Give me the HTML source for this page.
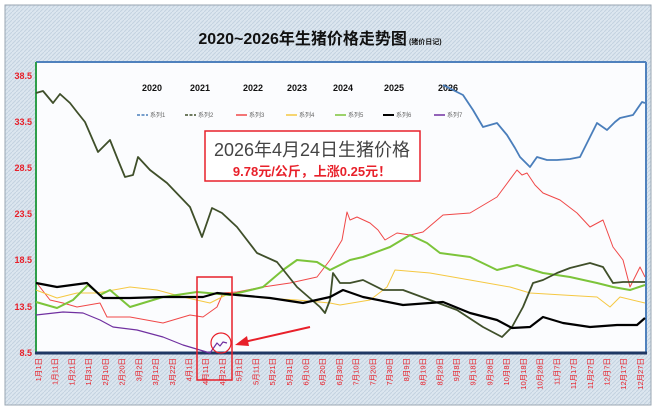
<!DOCTYPE html>
<html><head><meta charset="utf-8"><style>
body{margin:0;width:660px;height:412px;overflow:hidden;background:#fff;font-family:"Liberation Sans","Noto Sans CJK SC",sans-serif}
</style></head><body>
<svg width="660" height="412" viewBox="0 0 660 412" xmlns="http://www.w3.org/2000/svg" font-family="Liberation Sans, Noto Sans CJK SC, sans-serif">
<defs>
<pattern id="h" width="4" height="4" patternUnits="userSpaceOnUse"><rect width="4" height="4" fill="#dce6ef"/><path d="M0 4L4 0" stroke="#c3d2e0" stroke-width="1"/></pattern>
</defs>
<rect width="660" height="412" fill="#fff"/>
<rect x="5" y="5" width="646" height="400" fill="url(#h)" stroke="#9aa6b2"/>
<rect x="36" y="62" width="610" height="291" fill="#fbfcfe"/>
<line x1="36" y1="62" x2="646" y2="62" stroke="#4f81bd" stroke-width="2"/>
<line x1="646" y1="62" x2="646" y2="353" stroke="#4f81bd" stroke-width="2"/>
<line x1="36" y1="62" x2="36" y2="353" stroke="#2e9e4a" stroke-width="2"/>
<line x1="35" y1="353" x2="647" y2="353" stroke="#1f3864" stroke-width="3"/>
<text x="320" y="44" font-size="16" font-weight="bold" text-anchor="middle" fill="#111">2020~2026年生猪价格走势图<tspan font-size="7" dx="2">(猪价日记)</tspan></text>
<g font-size="9" font-weight="bold" fill="#e8202a" text-anchor="end">
<text x="32" y="79">38.5</text><text x="32" y="125">33.5</text><text x="32" y="171">28.5</text><text x="32" y="217">23.5</text><text x="32" y="263">18.5</text><text x="32" y="310">13.5</text><text x="32" y="356">8.5</text>
</g>
<g font-size="9" font-weight="bold" fill="#111" text-anchor="middle">
<text x="152" y="91">2020</text><text x="200" y="91">2021</text><text x="253" y="91">2022</text><text x="297" y="91">2023</text><text x="343" y="91">2024</text><text x="394" y="91">2025</text><text x="448" y="91">2026</text>
</g>
<g font-size="6" fill="#666" stroke-width="1.5">
<line x1="137" y1="115" x2="148" y2="115" stroke="#4a7ebb" stroke-dasharray="3,1.5"/><text x="150" y="117">系列1</text>
<line x1="185" y1="115" x2="196" y2="115" stroke="#3f4f2a" stroke-dasharray="3,1.5"/><text x="198" y="117">系列2</text>
<line x1="236" y1="115" x2="247" y2="115" stroke="#f04848"/><text x="249" y="117">系列3</text>
<line x1="286" y1="115" x2="297" y2="115" stroke="#f5c842"/><text x="299" y="117">系列4</text>
<line x1="335" y1="115" x2="346" y2="115" stroke="#7cc43a"/><text x="348" y="117">系列5</text>
<line x1="383" y1="115" x2="394" y2="115" stroke="#000" stroke-width="2"/><text x="396" y="117">系列6</text>
<line x1="434" y1="115" x2="445" y2="115" stroke="#7030a0"/><text x="447" y="117">系列7</text>
</g>
<g fill="none" stroke-linejoin="round">
<polyline stroke="#4a7ebb" stroke-width="1.8" points="443,85 453,90 463,95 473,110 483,127 490,125 497,123 507,135 515,148 520,157 530,167 537,157 547,160 557,160 570,159 580,157 590,137 597,123 607,130 615,122 620,118 633,115 642,102 645,103"/>
<polyline stroke="#f04848" stroke-width="1" points="36,282 50,300 63,303 77,307 100,303 107,317 130,317 163,323 190,315 203,317 217,307 223,293 237,292 263,287 290,283 317,277 330,260 342,240 347,212 350,220 357,217 370,223 378,230 385,240 397,233 410,235 423,232 443,215 470,213 497,197 517,170 522,175 527,173 535,185 543,193 560,200 577,213 590,227 603,220 613,247 623,260 630,287 640,267 645,277"/>
<polyline stroke="#f5c842" stroke-width="1" points="36,290 57,298 77,293 97,293 130,287 157,290 183,297 210,303 230,293 263,298 297,300 330,303 340,305 370,300 387,287 395,270 430,273 470,280 510,287 530,293 563,295 597,297 610,307 620,297 645,303"/>
<polyline stroke="#7cc43a" stroke-width="2" points="36,302 57,308 73,300 88,285 100,295 110,290 130,307 163,297 197,292 230,295 263,287 283,270 297,260 317,262 330,270 350,260 363,257 390,247 410,235 427,243 440,253 470,257 497,270 517,265 543,273 570,277 597,283 613,287 630,290 645,285"/>
<polyline stroke="#3f4f2a" stroke-width="1.8" points="36,93 43,91 53,103 60,94 70,103 77,112 85,122 98,152 110,140 118,160 125,177 133,175 138,157 150,170 167,183 190,207 202,237 212,208 222,213 237,227 257,253 277,262 297,287 320,307 325,313 330,300 333,273 340,283 350,283 363,280 383,290 403,290 430,300 457,310 483,327 502,337 512,327 523,307 533,283 543,280 557,273 570,268 590,263 603,267 613,283 623,282 645,282"/>
<polyline stroke="#000" stroke-width="2.2" points="36,283 57,287 72,285 87,283 103,298 130,298 163,297 203,297 217,293 237,295 270,298 303,303 330,297 343,290 363,297 403,305 443,302 470,313 497,320 512,328 530,327 543,317 563,323 590,327 617,325 637,325 645,318"/>
<polyline stroke="#7030a0" stroke-width="1.2" points="36,315 63,312 83,313 100,320 113,327 137,330 163,337 183,345 210,353 217,343 220,346 223,342 227,343"/>
</g>
<rect x="197" y="277" width="35" height="103" fill="none" stroke="#e8202a" stroke-width="1.5"/>
<circle cx="221" cy="343" r="10" fill="none" stroke="#e8202a" stroke-width="1.2"/>
<line x1="310" y1="327" x2="244" y2="342" stroke="#e8202a" stroke-width="2"/>
<polygon points="235,345 247,336 249,346" fill="#e8202a"/>
<rect x="205" y="131" width="215" height="50" fill="#fff" stroke="#e8202a" stroke-width="1.5"/>
<text x="312" y="156" font-size="18" text-anchor="middle" fill="#444">2026年4月24日生猪价格</text>
<text x="312" y="176" font-size="13" font-weight="bold" text-anchor="middle" fill="#e8202a">9.78元/公斤，上涨0.25元！</text>
<g font-size="7.5" fill="#e8202a" text-anchor="end" id="xl"></g>
</svg>
<script>
var m=[[1,1],[1,11],[1,21],[1,31],[2,10],[2,20],[3,2],[3,12],[3,22],[4,1],[4,11],[4,21],[5,1],[5,11],[5,21],[5,31],[6,10],[6,20],[6,30],[7,10],[7,20],[7,30],[8,9],[8,19],[8,29],[9,8],[9,18],[9,28],[10,8],[10,18],[10,28],[11,7],[11,17],[11,27],[12,7],[12,17],[12,27]];
var g=document.getElementById('xl'),s='';
m.forEach(function(d,i){var x=38+i*16.72+3;s+='<text transform="translate('+x.toFixed(1)+',358) rotate(-90)">'+d[0]+'月'+d[1]+'日</text>';});
g.innerHTML=s;
</script>
</body></html>
